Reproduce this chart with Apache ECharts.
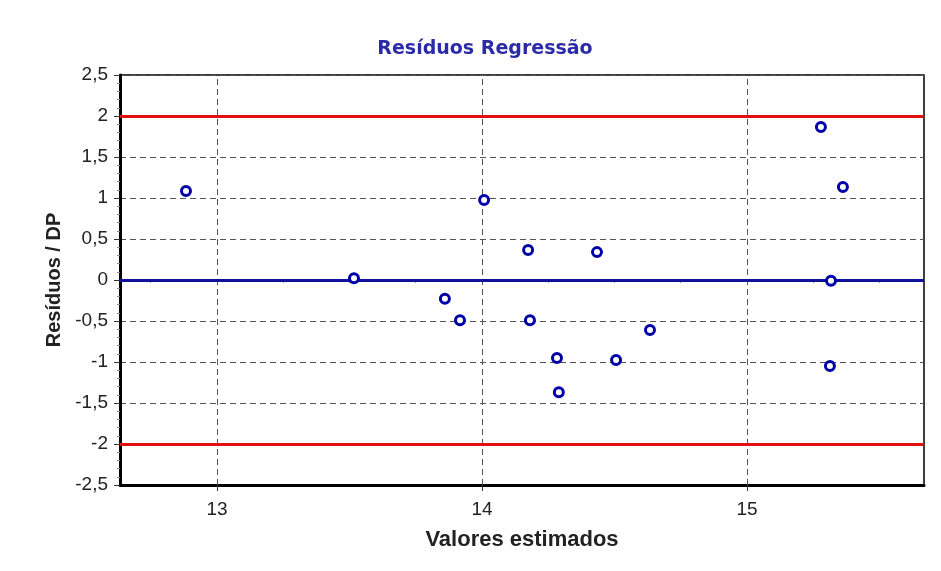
<!DOCTYPE html>
<html>
<head>
<meta charset="utf-8">
<script src="https://cdn.jsdelivr.net/npm/echarts@6/dist/echarts.min.js"></script>
<style>
html,body{margin:0;padding:0;background:#fff;}
#chart{width:941px;height:571px;}
</style>
</head>
<body>
<div id="chart"></div>
<script>
// Data
const estimated = [12.883, 13.517, 13.860, 13.917, 14.008, 14.174, 14.181, 14.283, 14.290, 14.434, 14.506, 14.634, 15.279, 15.362, 15.317, 15.313];
const residuals = [1.085, 0.02, -0.23, -0.49, 0.976, 0.366, -0.49, -0.95, -1.37, 0.34, -0.976, -0.61, 1.866, 1.134, -0.01, -1.05];
const xMajorTicks = [13, 14, 15];
const xMinorTicks = [12.75, 13.25, 13.5, 13.75, 14.25, 14.5, 14.75, 15.25, 15.5];
const limitLines = [2, -2];
const centerLine = [0];
const xRange = [12.634, 15.668];
const yRange = [-2.5, 2.5];
const yStep = 0.5;

const points = estimated.map((x, i) => [x, residuals[i]]);

const chart = echarts.init(document.getElementById('chart'), null, {renderer: 'canvas'});
const fontFam = '"Liberation Sans", Arial, sans-serif';

chart.setOption({
  animation: false,
  backgroundColor: '#ffffff',
  title: {
    text: 'Resíduos Regressão',
    left: 480,
    textAlign: 'center',
    top: 35,
    textStyle: {fontFamily: '"DejaVu Sans", Verdana, sans-serif', fontWeight: 'bold', fontSize: 19, color: '#2b2ba8'}
  },
  grid: {
    left: 120, right: 17, top: 75, bottom: 86,
    show: true, borderColor: '#000', borderWidth: 1.5, backgroundColor: '#fff'
  },
  xAxis: [{
    type: 'value',
    min: xRange[0], max: xRange[1],
    name: 'Valores estimados',
    nameLocation: 'middle',
    nameGap: 44,
    nameTextStyle: {fontFamily: fontFam, fontWeight: 'bold', fontSize: 22, color: '#222'},
    axisLine: {show: true, onZero: false, lineStyle: {color: '#000', width: 3}},
    axisTick: {show: true, length: 6, customValues: xMajorTicks, lineStyle: {color: '#333', width: 1}},
    axisLabel: {customValues: xMajorTicks, fontFamily: fontFam, fontSize: 19, color: '#222', margin: 15},
    splitLine: {show: false}
  }, {
    type: 'value',
    min: xRange[0], max: xRange[1],
    position: 'bottom',
    axisLine: {show: false},
    axisTick: {show: true, length: 3, customValues: xMinorTicks, lineStyle: {color: '#999', width: 1}},
    axisLabel: {show: false},
    splitLine: {show: false}
  }],
  yAxis: {
    type: 'value',
    min: yRange[0], max: yRange[1], interval: yStep,
    name: 'Resíduos / DP',
    nameLocation: 'middle',
    nameGap: 54,
    nameTextStyle: {fontFamily: fontFam, fontWeight: 'bold', fontSize: 20, color: '#222'},
    axisLine: {show: true, onZero: false, lineStyle: {color: '#000', width: 3}},
    axisTick: {show: true, length: 6, lineStyle: {color: '#333', width: 1}},
    minorTick: {show: true, splitNumber: 5, length: 3, lineStyle: {color: '#888', width: 1}},
    axisLabel: {
      fontFamily: fontFam, fontSize: 19, color: '#222', margin: 12,
      formatter: v => String(Math.round(v * 10) / 10).replace('.', ',')
    },
    splitLine: {show: true, lineStyle: {color: '#555', width: 1, type: [6, 4]}}
  },
  series: [{
    type: 'scatter',
    xAxisIndex: 0,
    data: [],
    silent: true,
    markLine: {
      silent: true, symbol: 'none', label: {show: false},
      lineStyle: {color: '#555', width: 1, type: [6, 4]},
      data: xMajorTicks.map(v => ({xAxis: v}))
    }
  }, {
    type: 'scatter',
    xAxisIndex: 0,
    data: [],
    silent: true,
    z: 3,
    markLine: {
      silent: true, symbol: 'none', label: {show: false},
      data: limitLines.map(v => ({yAxis: v, lineStyle: {color: '#e41010', width: 3, type: 'solid'}}))
        .concat(centerLine.map(v => ({yAxis: v, lineStyle: {color: '#10109a', width: 3, type: 'solid'}})))
    }
  }, {
    type: 'scatter',
    xAxisIndex: 0,
    z: 5,
    data: points,
    symbol: 'circle',
    symbolSize: 9,
    itemStyle: {color: '#ffffff', borderColor: '#0000a8', borderWidth: 3, opacity: 1}
  }]
});
</script>
</body>
</html>
